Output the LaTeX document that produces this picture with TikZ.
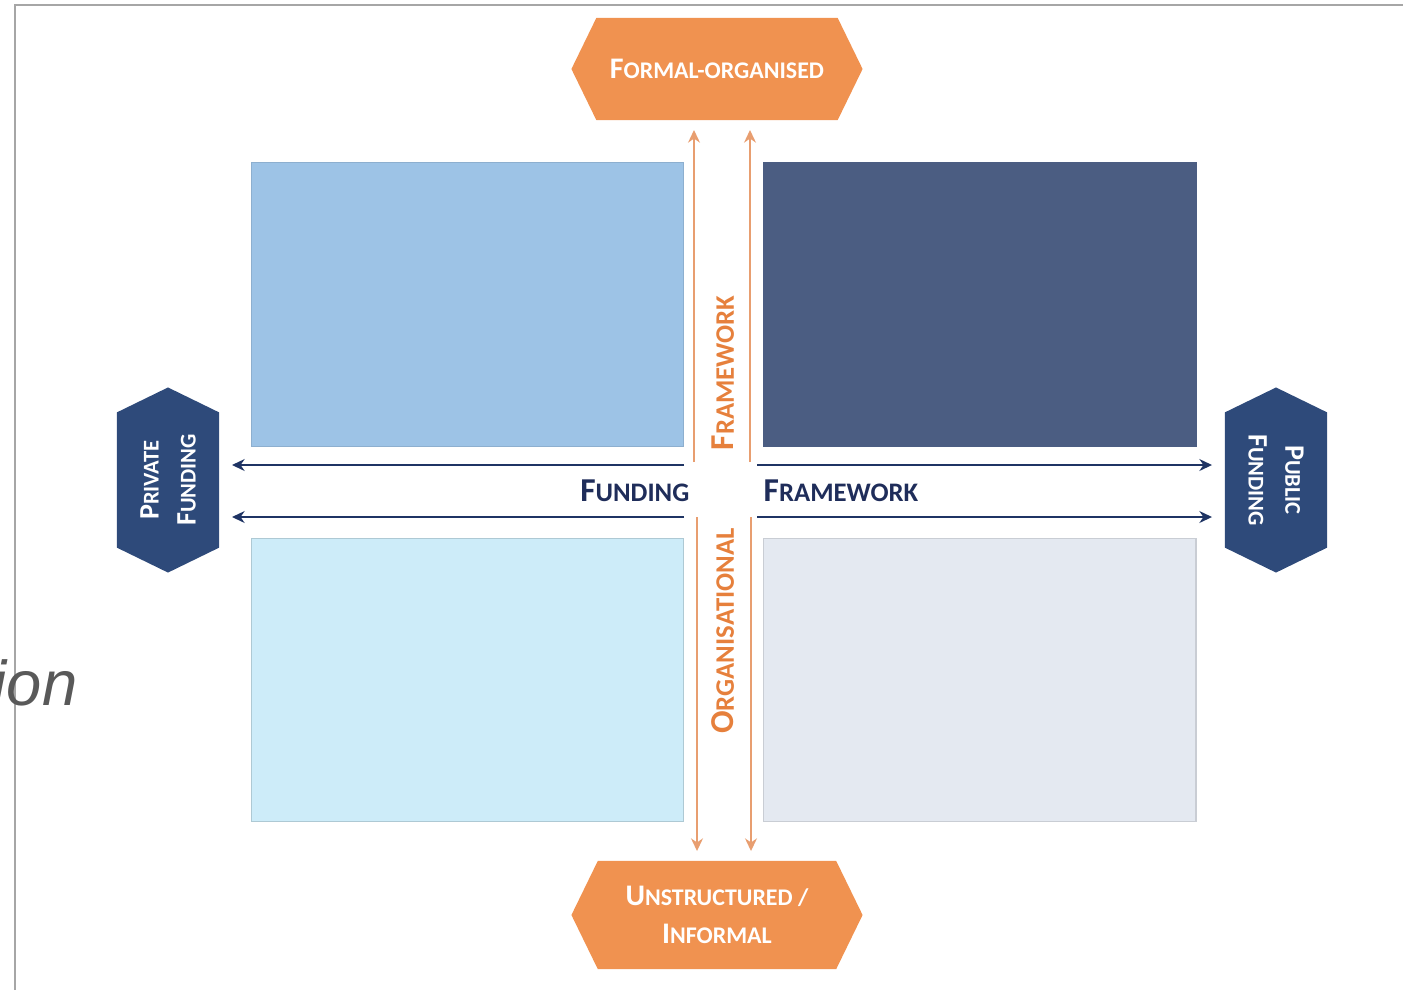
\documentclass[tikz,border=0pt]{standalone}
\usepackage{fontspec}
\setmainfont{Carlito}
\newfontfamily\slidefont{Liberation Sans}
\usetikzlibrary{shapes.symbols, arrows.meta, positioning}
\definecolor{hexorange}{RGB}{240,146,80}
\definecolor{hexnavy}{RGB}{46,74,122}
\definecolor{textnavy}{RGB}{31,45,90}
\definecolor{arrownavy}{RGB}{31,52,100}
\definecolor{textorange}{RGB}{230,128,60}
\definecolor{arroworange}{RGB}{232,158,112}
\definecolor{quadTL}{RGB}{157,195,230}
\definecolor{quadTR}{RGB}{75,93,130}
\definecolor{quadBL}{RGB}{205,236,249}
\definecolor{quadBR}{RGB}{228,233,241}
\newcommand{\lc}[1]{\scalebox{0.8}{#1}}
\tikzstyle{quadrant} = [draw, rectangle, minimum height=2.83cm, minimum width=4.32cm, line width=0.3pt]
\tikzstyle{hexbox} = [signal, signal to=east and west, signal pointer angle=128, minimum height=1.02cm, inner sep=0pt, text=white, align=center, font=\bfseries\fontsize{8}{10.5}\selectfont]
\tikzstyle{axislabel} = [inner sep=0pt, font=\bfseries\fontsize{9.5}{11}\selectfont]
\tikzstyle{arrow} = [->, >={Stealth[length=3.6pt,width=3.4pt]}, line width=0.45pt]

\begin{document}
\begin{tikzpicture}[x=0.01cm, y=-0.01cm]
            \useasboundingbox (0,0) rectangle (1403,990);
            % slide frame
                  \draw [gray!70, line width=0.5pt] (15,990) -- (15,5) -- (1403,5);
                  \node (SlideText) [anchor=base east, inner sep=0pt, text=black!65, font=\slidefont\itshape\fontsize{18}{20}\selectfont] at (78,705) {ion};

            % Quadrants
                  \node (FormalPrivate) [quadrant, fill=quadTL, draw=quadTL!90!black] at (467.5,304.5) {};
                  \node (FormalPublic) [quadrant, fill=quadTR, draw=quadTR, right=0.79cm of FormalPrivate] {};
                  \node (InformalPrivate) [quadrant, fill=quadBL, draw=quadBL!85!black, below=0.91cm of FormalPrivate] {};
                  \node (InformalPublic) [quadrant, fill=quadBR, draw=quadBR!88!black, below=0.91cm of FormalPublic] {};

            % Hexagons
                  \node (FormalHex) [hexbox, fill=hexorange, minimum width=2.91cm, font=\bfseries\fontsize{8.5}{10.5}\selectfont] at (717,69) {F\lc{ORMAL-ORGANISED}};
                  \node (InformalHex) [hexbox, fill=hexorange, minimum width=2.91cm, minimum height=1.08cm, font=\bfseries\fontsize{8.5}{10.7}\selectfont] at (717,915) {U\lc{NSTRUCTURED /}\\I\lc{NFORMAL}};
                  \node (PrivateHex) [hexbox, fill=hexnavy, minimum width=1.85cm, rotate=90] at (168,480) {P\lc{RIVATE}\\F\lc{UNDING}};
                  \node (PublicHex) [hexbox, fill=hexnavy, minimum width=1.85cm, rotate=-90] at (1276,480) {P\lc{UBLIC}\\F\lc{UNDING}};

            % Axis labels
                  \node (FundingLbl) [axislabel, text=textnavy, anchor=base east] at (690,501) {F\lc{UNDING}};
                  \node (FrameworkLbl) [axislabel, text=textnavy, anchor=base west] at (763,501) {F\lc{RAMEWORK}};
                  \node (FrameworkV) [axislabel, text=textorange, rotate=90] at (723,373) {F\lc{RAMEWORK}};
                  \node (OrganisationalV) [axislabel, text=textorange, rotate=90] at (723,631) {O\lc{RGANISATIONAL}};

            % Arrow ends
                  \coordinate (FundTopIn) at (684,465);
                  \coordinate (FundBotIn) at (684,517);
                  \coordinate (FundTopOut) at (232,465);
                  \coordinate (FundBotOut) at (232,517);
                  \coordinate (PubTopIn) at (757,465);
                  \coordinate (PubBotIn) at (757,517);
                  \coordinate (PubTopOut) at (1212,465);
                  \coordinate (PubBotOut) at (1212,517);
                  \coordinate (UpLeftIn) at (694,462);
                  \coordinate (UpRightIn) at (750,462);
                  \coordinate (UpLeftOut) at (694,130);
                  \coordinate (UpRightOut) at (750,130);
                  \coordinate (DownLeftIn) at (697,517);
                  \coordinate (DownRightIn) at (751,517);
                  \coordinate (DownLeftOut) at (697,851);
                  \coordinate (DownRightOut) at (751,851);

            % Arrows
            \draw [arrow, arrownavy] (FundTopIn) -- (FundTopOut);
            \draw [arrow, arrownavy] (FundBotIn) -- (FundBotOut);
            \draw [arrow, arrownavy] (PubTopIn) -- (PubTopOut);
            \draw [arrow, arrownavy] (PubBotIn) -- (PubBotOut);
            \draw [arrow, arroworange] (UpLeftIn) -- (UpLeftOut);
            \draw [arrow, arroworange] (UpRightIn) -- (UpRightOut);
            \draw [arrow, arroworange] (DownLeftIn) -- (DownLeftOut);
            \draw [arrow, arroworange] (DownRightIn) -- (DownRightOut);
        \end{tikzpicture}
\end{document}
